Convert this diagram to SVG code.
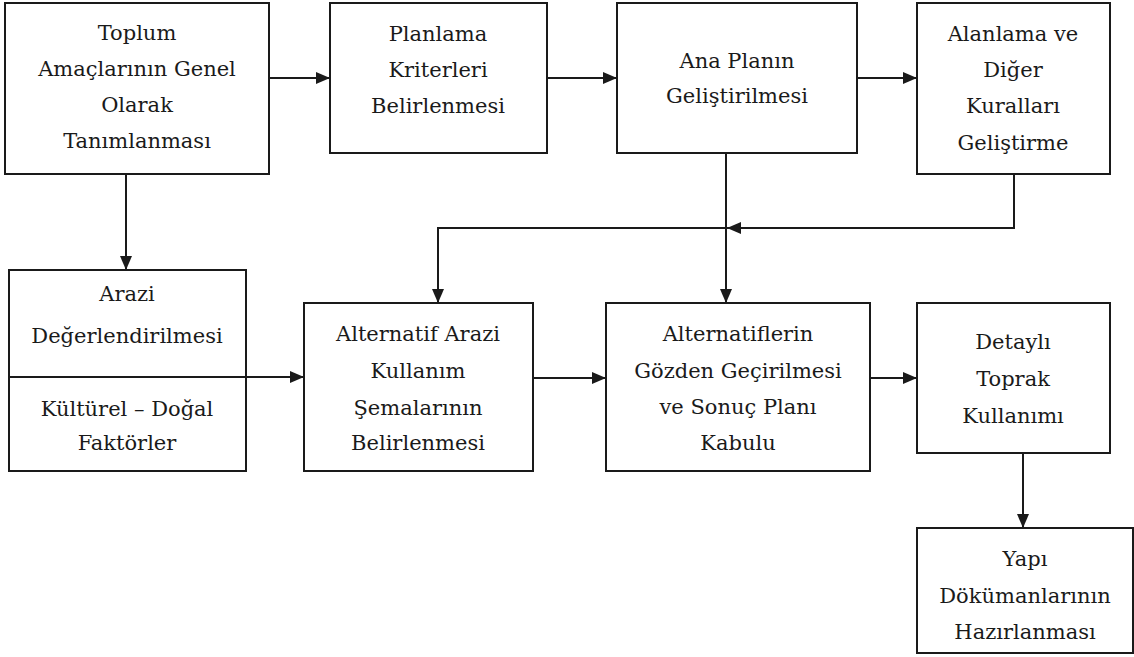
<svg xmlns="http://www.w3.org/2000/svg" width="1134" height="657" viewBox="0 0 1134 657">
  <style>
    .box { fill: #ffffff; stroke: #1a1a1a; stroke-width: 2; }
    .lbl { font-size: 21px; fill: #1a1a1a; text-anchor: middle; }
    .con { fill: none; stroke: #1a1a1a; stroke-width: 2; }
  </style>
  <defs>
    <marker id="arrow" viewBox="0 0 14 12" refX="14" refY="6" markerWidth="14" markerHeight="12" markerUnits="userSpaceOnUse" orient="auto">
      <path d="M0,0 L14,6 L0,12 Z" fill="#1a1a1a"/>
    </marker>
  </defs>
  <rect width="1134" height="657" fill="#ffffff"/>

  <g id="connectors">
    <line class="con" x1="269" y1="78" x2="330" y2="78" marker-end="url(#arrow)"/>
    <line class="con" x1="547" y1="78" x2="617" y2="78" marker-end="url(#arrow)"/>
    <line class="con" x1="857" y1="78" x2="917" y2="78" marker-end="url(#arrow)"/>
    <line class="con" x1="126" y1="174" x2="126" y2="270" marker-end="url(#arrow)"/>
    <line class="con" x1="726" y1="153" x2="726" y2="303" marker-end="url(#arrow)"/>
    <polyline class="con" points="1014,174 1014,228 727,228" marker-end="url(#arrow)"/>
    <polyline class="con" points="726,228 438,228 438,303" marker-end="url(#arrow)"/>
    <line class="con" x1="9" y1="377" x2="304" y2="377" marker-end="url(#arrow)"/>
    <line class="con" x1="533" y1="378" x2="606" y2="378" marker-end="url(#arrow)"/>
    <line class="con" x1="870" y1="378" x2="917" y2="378" marker-end="url(#arrow)"/>
    <line class="con" x1="1023" y1="453" x2="1023" y2="528" marker-end="url(#arrow)"/>
  </g>

  <g id="toplum">
    <rect class="box" x="5" y="3" width="264" height="171"/>
    <text class="lbl" style="font-family: 'DejaVu Serif'" x="137" y="40">Toplum</text>
    <text class="lbl" style="font-family: 'DejaVu Serif'" x="137" y="76">Amaçlarının Genel</text>
    <text class="lbl" style="font-family: 'DejaVu Serif'" x="137" y="112">Olarak</text>
    <text class="lbl" style="font-family: 'DejaVu Serif'" x="137" y="148">Tanımlanması</text>
  </g>

  <g id="planlama">
    <rect class="box" x="330" y="3" width="217" height="150"/>
    <text class="lbl" style="font-family: 'DejaVu Serif'" x="438" y="41">Planlama</text>
    <text class="lbl" style="font-family: 'DejaVu Serif'" x="438" y="77">Kriterleri</text>
    <text class="lbl" style="font-family: 'DejaVu Serif'" x="438" y="113">Belirlenmesi</text>
  </g>

  <g id="ana-plan">
    <rect class="box" x="617" y="3" width="240" height="150"/>
    <text class="lbl" style="font-family: 'DejaVu Serif'" x="737" y="68">Ana Planın</text>
    <text class="lbl" style="font-family: 'DejaVu Serif'" x="737" y="103">Geliştirilmesi</text>
  </g>

  <g id="alanlama">
    <rect class="box" x="917" y="3" width="193" height="171"/>
    <text class="lbl" style="font-family: 'DejaVu Serif'" x="1013" y="41">Alanlama ve</text>
    <text class="lbl" style="font-family: 'DejaVu Serif'" x="1013" y="77">Diğer</text>
    <text class="lbl" style="font-family: 'DejaVu Serif'" x="1013" y="113">Kuralları</text>
    <text class="lbl" style="font-family: 'DejaVu Serif'" x="1013" y="150">Geliştirme</text>
  </g>

  <g id="arazi">
    <rect class="box" x="9" y="270" width="237" height="201"/>
    <line class="con" x1="9" y1="377" x2="246" y2="377"/>
    <text class="lbl" style="font-family: 'DejaVu Serif'" x="127" y="301">Arazi</text>
    <text class="lbl" style="font-family: 'DejaVu Serif'" x="127" y="343">Değerlendirilmesi</text>
    <text class="lbl" style="font-family: 'DejaVu Serif'" x="127" y="416">Kültürel – Doğal</text>
    <text class="lbl" style="font-family: 'DejaVu Serif'" x="127" y="450">Faktörler</text>
  </g>

  <g id="alternatif">
    <rect class="box" x="304" y="303" width="229" height="168"/>
    <text class="lbl" style="font-family: 'DejaVu Serif'" x="418" y="341">Alternatif Arazi</text>
    <text class="lbl" style="font-family: 'DejaVu Serif'" x="418" y="378">Kullanım</text>
    <text class="lbl" style="font-family: 'DejaVu Serif'" x="418" y="415">Şemalarının</text>
    <text class="lbl" style="font-family: 'DejaVu Serif'" x="418" y="450">Belirlenmesi</text>
  </g>

  <g id="alternatifler">
    <rect class="box" x="606" y="303" width="264" height="168"/>
    <text class="lbl" style="font-family: 'DejaVu Serif'" x="738" y="341">Alternatiflerin</text>
    <text class="lbl" style="font-family: 'DejaVu Serif'" x="738" y="378">Gözden Geçirilmesi</text>
    <text class="lbl" style="font-family: 'DejaVu Serif'" x="738" y="414">ve Sonuç Planı</text>
    <text class="lbl" style="font-family: 'DejaVu Serif'" x="738" y="450">Kabulu</text>
  </g>

  <g id="detayli">
    <rect class="box" x="917" y="303" width="193" height="150"/>
    <text class="lbl" style="font-family: 'DejaVu Serif'" x="1013" y="349">Detaylı</text>
    <text class="lbl" style="font-family: 'DejaVu Serif'" x="1013" y="386">Toprak</text>
    <text class="lbl" style="font-family: 'DejaVu Serif'" x="1013" y="423">Kullanımı</text>
  </g>

  <g id="yapi">
    <rect class="box" x="917" y="528" width="216" height="125"/>
    <text class="lbl" style="font-family: 'DejaVu Serif'" x="1025" y="566">Yapı</text>
    <text class="lbl" style="font-family: 'DejaVu Serif'" x="1025" y="603">Dökümanlarının</text>
    <text class="lbl" style="font-family: 'DejaVu Serif'" x="1025" y="639">Hazırlanması</text>
  </g>
</svg>
